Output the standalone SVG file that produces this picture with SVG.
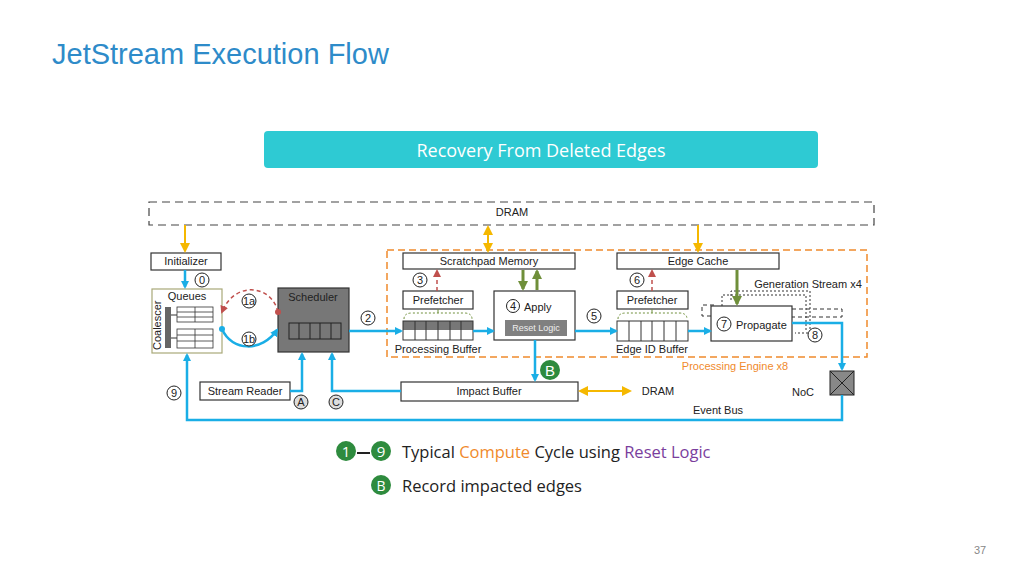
<svg xmlns="http://www.w3.org/2000/svg" width="1024" height="576" viewBox="0 0 1024 576">
<style>
.t{font-family:"Liberation Sans",Arial,sans-serif;font-size:11px;fill:#222}
.box{fill:#fff;stroke:#333;stroke-width:1.2}
.b{stroke:#1aaee6;stroke-width:2.5;fill:none}
.o{stroke:#f5b800;stroke-width:2;fill:none}
.g{stroke:#6f8f3a;stroke-width:3;fill:none}
.r{stroke:#c0504d;stroke-width:1.5;fill:none;stroke-dasharray:4 3}
.num{fill:#fff;stroke:#222;stroke-width:1}
.big{font-family:"Open Sans","Liberation Sans",sans-serif;font-size:16.5px;fill:#222}
</style>
<defs>
<marker id="ab" markerWidth="8" markerHeight="8" refX="6" refY="4" orient="auto" markerUnits="userSpaceOnUse" viewBox="0 0 8 8"><path d="M0,0L8,4L0,8z" fill="#1aaee6"/></marker>
<marker id="ao" markerWidth="10" markerHeight="10" refX="8" refY="5" orient="auto-start-reverse" markerUnits="userSpaceOnUse"><path d="M0,0L10,5L0,10z" fill="#f5b800"/></marker>
<marker id="ag" markerWidth="12" markerHeight="10" refX="8" refY="5" orient="auto" markerUnits="userSpaceOnUse"><path d="M0,0L10,5L0,10z" fill="#6f8f3a"/></marker>
<marker id="ar" markerWidth="8" markerHeight="8" refX="6" refY="4" orient="auto" markerUnits="userSpaceOnUse"><path d="M0,0L8,4L0,8z" fill="#c0504d"/></marker>
</defs>
<rect width="1024" height="576" fill="#fff"/>
<text x="52" y="64" font-family="Liberation Sans,Arial,sans-serif" font-size="29" fill="#2e8bc9">JetStream Execution Flow</text>
<g id="banner"><rect x="264" y="131" width="554" height="37" rx="4" fill="#2ecad3"/>
<text x="541" y="157" text-anchor="middle" font-family="Open Sans,Liberation Sans,sans-serif" font-size="18" fill="#fff">Recovery From Deleted Edges</text></g>

<g id="dram"><rect x="149" y="202" width="725" height="23" fill="none" stroke="#444" stroke-width="1.2" stroke-dasharray="8 5"/><text class="t" x="512" y="216" text-anchor="middle">DRAM</text></g>
<g id="pe"><rect x="387" y="250" width="480" height="107" fill="none" stroke="#f08a2c" stroke-width="1.5" stroke-dasharray="7 4"/>
<text x="735" y="370" text-anchor="middle" font-family="Liberation Sans,Arial,sans-serif" font-size="11" fill="#f08a2c">Processing Engine x8</text></g>

<g id="initializer"><rect class="box" x="151" y="253" width="70" height="17"/><text class="t" x="186" y="265" text-anchor="middle">Initializer</text></g>
<g id="queues"><rect x="152" y="289" width="70" height="64" fill="#fff" stroke="#a8a878" stroke-width="1.2"/>
<text class="t" x="187" y="300" text-anchor="middle">Queues</text>
<rect x="165" y="307" width="6" height="41" fill="#666"/>
<text class="t" x="0" y="0" font-size="9" transform="translate(161,350) rotate(-90)">Coalescer</text>
<line x1="171" y1="315" x2="177" y2="315" stroke="#333"/><line x1="171" y1="338" x2="177" y2="338" stroke="#333"/>
<g fill="#fff" stroke="#333" stroke-width="0.8"><rect x="177" y="307" width="36" height="15"/><rect x="177" y="329" width="36" height="19"/></g>
<g stroke="#333" stroke-width="0.8"><line x1="195" y1="307" x2="195" y2="322"/><line x1="177" y1="312" x2="213" y2="312"/><line x1="177" y1="317" x2="213" y2="317"/>
<line x1="195" y1="329" x2="195" y2="348"/><line x1="177" y1="335" x2="213" y2="335"/><line x1="177" y1="341" x2="213" y2="341"/></g></g>
<g id="scheduler"><rect x="278" y="288" width="71" height="64" fill="#777" stroke="#333" stroke-width="1.2"/>
<text class="t" x="313" y="301" text-anchor="middle">Scheduler</text>
<rect x="289" y="323" width="52" height="16" fill="none" stroke="#222"/>
<g stroke="#222"><line x1="299" y1="323" x2="299" y2="339"/><line x1="310" y1="323" x2="310" y2="339"/><line x1="320" y1="323" x2="320" y2="339"/><line x1="331" y1="323" x2="331" y2="339"/></g></g>
<g id="streamreader"><rect class="box" x="200" y="382" width="90" height="18"/><text class="t" x="245" y="395" text-anchor="middle">Stream Reader</text></g>
<g id="scratchpad"><rect class="box" x="403" y="253" width="172" height="16"/><text class="t" x="489" y="265" text-anchor="middle">Scratchpad Memory</text></g>
<g id="prefetcher1"><rect class="box" x="403" y="291" width="70" height="18"/><text class="t" x="438" y="304" text-anchor="middle">Prefetcher</text></g>
<g id="procbuf"><rect x="403" y="321" width="70" height="9" fill="#777"/><rect x="403" y="321" width="70" height="19" fill="none" stroke="#333"/>
<g stroke="#333"><line x1="415" y1="321" x2="415" y2="340"/><line x1="426" y1="321" x2="426" y2="340"/><line x1="438" y1="321" x2="438" y2="340"/><line x1="450" y1="321" x2="450" y2="340"/><line x1="461" y1="321" x2="461" y2="340"/></g>
<path d="M404,319 Q404,313 412,313 L464,313 Q472,313 472,319" fill="none" stroke="#6f8f3a" stroke-dasharray="2 2"/><line x1="438" y1="313" x2="438" y2="309" stroke="#6f8f3a"/>
<text class="t" x="438" y="353" text-anchor="middle">Processing Buffer</text></g>
<g id="apply"><rect class="box" x="494" y="291" width="81" height="49"/>
<circle class="num" cx="513" cy="306" r="6.5"/><text class="t" x="513" y="310" text-anchor="middle">4</text>
<text class="t" x="524" y="311" font-size="12">Apply</text>
<rect x="505" y="320" width="62" height="16" fill="#808080"/><text x="536" y="331" text-anchor="middle" font-family="Liberation Sans,Arial,sans-serif" font-size="9" fill="#eee">Reset Logic</text></g>
<g id="edgecache"><rect class="box" x="617" y="253" width="162" height="16"/><text class="t" x="698" y="265" text-anchor="middle">Edge Cache</text></g>
<g id="prefetcher2"><rect class="box" x="617" y="291" width="71" height="18"/><text class="t" x="652" y="304" text-anchor="middle">Prefetcher</text></g>
<g id="edgeidbuf"><rect x="617" y="321" width="71" height="20" fill="#fff" stroke="#333"/>
<g stroke="#333"><line x1="629" y1="321" x2="629" y2="341"/><line x1="641" y1="321" x2="641" y2="341"/><line x1="652" y1="321" x2="652" y2="341"/><line x1="664" y1="321" x2="664" y2="341"/><line x1="676" y1="321" x2="676" y2="341"/></g>
<path d="M618,319 Q618,313 626,313 L679,313 Q687,313 687,319" fill="none" stroke="#6f8f3a" stroke-dasharray="2 2"/><line x1="652" y1="313" x2="652" y2="309" stroke="#6f8f3a"/>
<text class="t" x="652" y="353" text-anchor="middle">Edge ID Buffer</text></g>
<g id="propagate">
<g fill="none" stroke="#333" stroke-width="1"><path d="M731,300 V291 H810 V333 H795" stroke-dasharray="2 2"/><path d="M722,306 V295 H806 V330" stroke-dasharray="2 2"/><path d="M711,316 H702 V305 H716" stroke-dasharray="4 3"/><path d="M792,309 H842 V317 H792" stroke-dasharray="4 3"/></g>
<rect class="box" x="711" y="306" width="81" height="35"/>
<circle class="num" cx="724" cy="324" r="7"/><text class="t" x="724" y="328" text-anchor="middle">7</text>
<text class="t" x="736" y="329" font-size="12">Propagate</text>
<text class="t" x="808" y="288" text-anchor="middle">Generation Stream x4</text></g>
<g id="impact"><rect class="box" x="401" y="382" width="177" height="19"/><text class="t" x="489" y="395" text-anchor="middle">Impact Buffer</text></g>
<g id="noc"><rect x="830" y="371" width="24" height="24" fill="#888" stroke="#222"/><path d="M830,371L854,395M854,371L830,395" stroke="#222"/><text class="t" x="803" y="396" text-anchor="middle">NoC</text></g>

<g id="connectors">
<line class="o" x1="185" y1="225" x2="185" y2="251" marker-end="url(#ao)"/>
<line class="o" x1="488" y1="227" x2="488" y2="251" marker-start="url(#ao)" marker-end="url(#ao)"/>
<line class="o" x1="698" y1="225" x2="698" y2="251" marker-end="url(#ao)"/>
<line class="o" x1="580" y1="391" x2="630" y2="391" marker-start="url(#ao)" marker-end="url(#ao)"/>
<line class="b" x1="185" y1="270" x2="185" y2="287" marker-end="url(#ab)"/>
<path class="r" d="M278,312 C272,285 235,280 222,312" marker-end="url(#ar)"/><circle cx="278" cy="312" r="3" fill="#c0504d"/>
<path class="b" d="M222,329 C232,352 262,352 277,330" marker-end="url(#ab)"/><circle cx="222" cy="329" r="3" fill="#1aaee6"/>
<line class="b" x1="349" y1="331" x2="401" y2="331" marker-end="url(#ab)"/>
<line class="b" x1="473" y1="331" x2="493" y2="331" marker-end="url(#ab)"/>
<line class="b" x1="575" y1="331" x2="616" y2="331" marker-end="url(#ab)"/>
<line class="b" x1="688" y1="331" x2="710" y2="331" marker-end="url(#ab)"/>
<polyline class="b" points="792,323 842,323 842,369" marker-end="url(#ab)"/>
<polyline class="b" points="842,395 842,420 187,420 187,355" marker-end="url(#ab)"/>
<line class="b" x1="535" y1="340" x2="535" y2="380" marker-end="url(#ab)"/>
<polyline class="b" points="401,391 332,391 332,354" marker-end="url(#ab)"/>
<polyline class="b" points="290,391 302,391 302,354" marker-end="url(#ab)"/>
<line class="r" x1="437" y1="291" x2="437" y2="271" marker-end="url(#ar)"/>
<line class="r" x1="652" y1="291" x2="652" y2="271" marker-end="url(#ar)"/>
<line class="g" x1="523" y1="270" x2="523" y2="289" marker-end="url(#ag)"/>
<line class="g" x1="537" y1="290" x2="537" y2="271" marker-end="url(#ag)"/>
<line class="g" x1="737" y1="270" x2="737" y2="304" marker-end="url(#ag)"/>
</g>
<g id="labels">
<circle class="num" cx="202" cy="280" r="7"/><text class="t" x="202" y="284" text-anchor="middle">0</text>
<circle class="num" cx="249" cy="301" r="7"/><text class="t" x="249" y="305" text-anchor="middle" font-size="10">1a</text>
<circle class="num" cx="249" cy="339" r="7"/><text class="t" x="249" y="343" text-anchor="middle" font-size="10">1b</text>
<circle class="num" cx="368" cy="318" r="7"/><text class="t" x="368" y="322" text-anchor="middle">2</text>
<circle class="num" cx="420" cy="280" r="7"/><text class="t" x="420" y="284" text-anchor="middle">3</text>
<circle class="num" cx="594" cy="316" r="7"/><text class="t" x="594" y="320" text-anchor="middle">5</text>
<circle class="num" cx="637" cy="280" r="7"/><text class="t" x="637" y="284" text-anchor="middle">6</text>
<circle class="num" cx="815" cy="335" r="7"/><text class="t" x="815" y="339" text-anchor="middle">8</text>
<circle class="num" cx="174" cy="393" r="7"/><text class="t" x="174" y="397" text-anchor="middle">9</text>
<circle cx="301" cy="402" r="7" fill="#ddd" stroke="#222"/><text class="t" x="301" y="406" text-anchor="middle">A</text>
<circle cx="336" cy="402" r="7" fill="#ddd" stroke="#222"/><text class="t" x="336" y="406" text-anchor="middle">C</text>
<circle cx="550" cy="370" r="10" fill="#2e8b3e"/><text x="550" y="376" text-anchor="middle" font-family="Liberation Sans,sans-serif" font-size="15" fill="#fff">B</text>
<text class="t" x="658" y="395" text-anchor="middle">DRAM</text>
<text class="t" x="718" y="414" text-anchor="middle">Event Bus</text>
</g>
<g id="legend">
<circle cx="346" cy="451" r="10" fill="#2e8b3e"/><text x="346" y="457" text-anchor="middle" font-family="Open Sans,Liberation Sans,sans-serif" font-size="15" fill="#fff">1</text>
<line x1="357" y1="453" x2="370" y2="453" stroke="#222" stroke-width="2"/>
<circle cx="381" cy="451" r="10" fill="#2e8b3e"/><text x="381" y="457" text-anchor="middle" font-family="Open Sans,Liberation Sans,sans-serif" font-size="15" fill="#fff">9</text>
<text class="big" x="402" y="458">Typical <tspan fill="#f08a2c">Compute</tspan> Cycle using <tspan fill="#7a3e9d">Reset Logic</tspan></text>
<circle cx="381" cy="485" r="10" fill="#2e8b3e"/><text x="381" y="491" text-anchor="middle" font-family="Open Sans,Liberation Sans,sans-serif" font-size="14" fill="#fff">B</text>
<text class="big" x="402" y="492">Record impacted edges</text>
</g>
<text x="980" y="554" text-anchor="middle" font-family="Liberation Sans,sans-serif" font-size="11" fill="#888">37</text>
</svg>
